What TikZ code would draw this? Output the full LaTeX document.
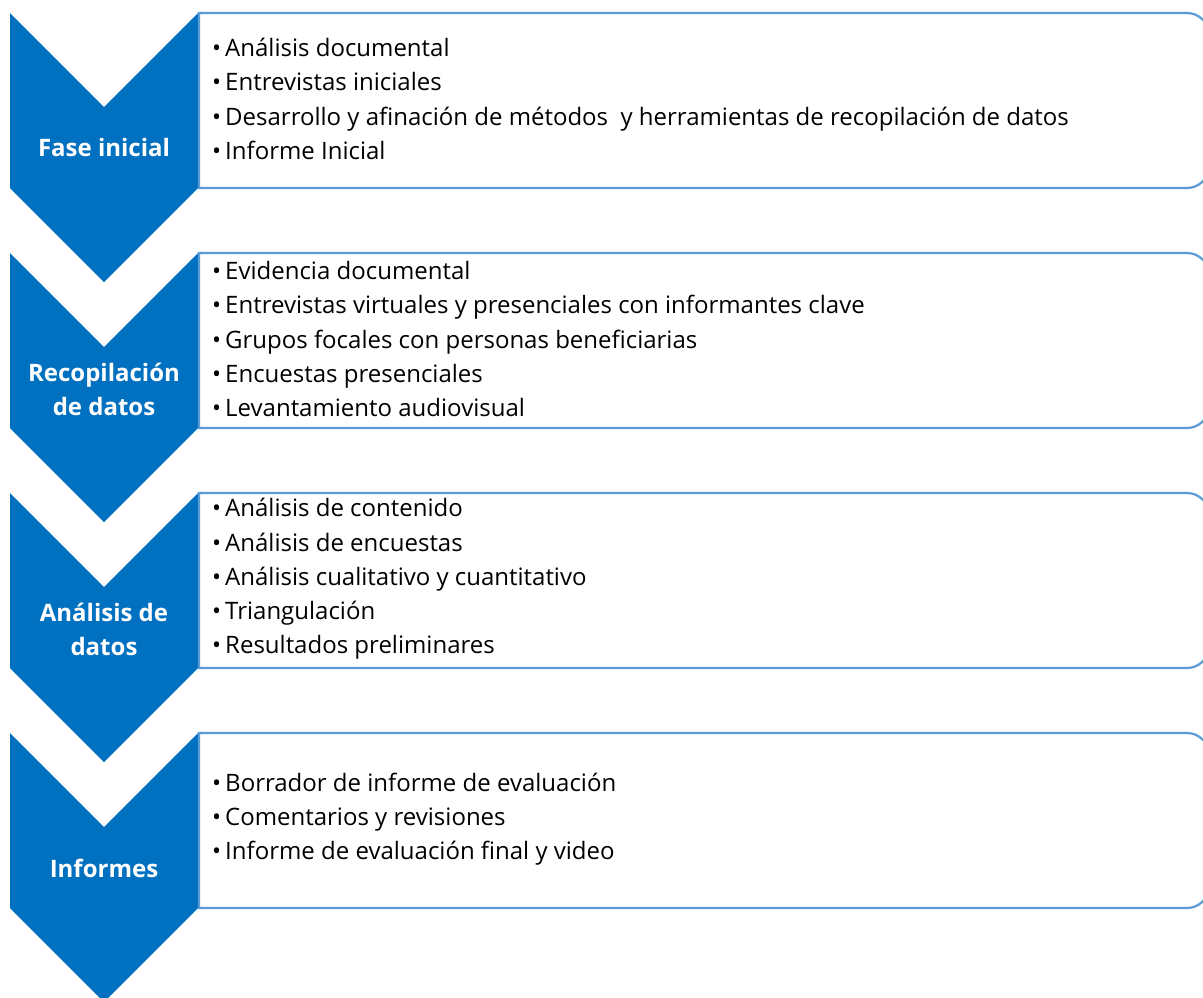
\documentclass[tikz,border=0pt]{standalone}
\usepackage{fontspec}
\setmainfont{Open Sans}
\usepackage{tikz}
\usetikzlibrary{positioning}
\definecolor{phaseblue}{HTML}{0070C0}
\definecolor{boxblue}{HTML}{5B9BD5}
\tikzset{x=1pt, y=-1pt, % One unit is one pixel of the layout, y grows downwards
chevron/.style={ % Sets the properties for each phase arrow
fill=phaseblue,
draw=none},
listbox/.style={ % Sets the properties for each box of tasks
draw=boxblue,
fill=white,
line width=2.2pt},
phase/.style={ % Label inside an arrow
text=white,
font=\bfseries\fontsize{24}{34}\selectfont,
align=center},
tasks/.style={ % Bulleted list inside a box
anchor=west,
text=black,
font=\fontsize{24}{34.3}\selectfont,
align=left,
inner sep=0pt}}

\begin{document}
\begin{tikzpicture}
				\useasboundingbox (0,0) rectangle (1203,997);

				% arrows
				\fill[chevron] (10,13) -- (104,107) -- (198,13) -- (198,188) -- (104,282) -- (10,188) -- cycle;
				\fill[chevron] (10,253) -- (104,347) -- (198,253) -- (198,428) -- (104,522) -- (10,428) -- cycle;
				\fill[chevron] (10,493) -- (104,587) -- (198,493) -- (198,668) -- (104,762) -- (10,668) -- cycle;
				\fill[chevron] (10,733) -- (104,827) -- (198,733) -- (198,908) -- (104,1002) -- (10,908) -- cycle;

				% boxes
				\draw[listbox] (199,188) -- (199,13) [rounded corners=22pt] -- (1209,13) -- (1209,188) [sharp corners] -- cycle;
				\draw[listbox] (199,428) -- (199,253) [rounded corners=22pt] -- (1209,253) -- (1209,428) [sharp corners] -- cycle;
				\draw[listbox] (199,668) -- (199,493) [rounded corners=22pt] -- (1209,493) -- (1209,668) [sharp corners] -- cycle;
				\draw[listbox] (199,908) -- (199,733) [rounded corners=22pt] -- (1209,733) -- (1209,908) [sharp corners] -- cycle;

				\node[phase] (p1) at (104,147) {Fase inicial};
				\node[phase] (p2) at (104,389) {Recopilación\\de datos};
				\node[phase] (p3) at (104,629) {Análisis de\\datos};
				\node[phase] (p4) at (104,868) {Informes};

				\node[tasks] (t1) at (212,99) {•\,Análisis documental\\•\,Entrevistas iniciales\\•\,Desarrollo y afinación de métodos~ y herramientas de recopilación de datos\\•\,Informe Inicial};
				\node[tasks] (t2) at (212,339) {•\,Evidencia documental\\•\,Entrevistas virtuales y presenciales con informantes clave\\•\,Grupos focales con personas beneficiarias\\•\,Encuestas presenciales\\•\,Levantamiento audiovisual};
				\node[tasks] (t3) at (212,579) {•\,Análisis de contenido\\•\,Análisis de encuestas\\•\,Análisis cualitativo y cuantitativo\\•\,Triangulación\\•\,Resultados preliminares};
				\node[tasks] (t4) at (212,819) {•\,Borrador de informe de evaluación\\•\,Comentarios y revisiones\\•\,Informe de evaluación final y video};
			\end{tikzpicture}
\end{document}
